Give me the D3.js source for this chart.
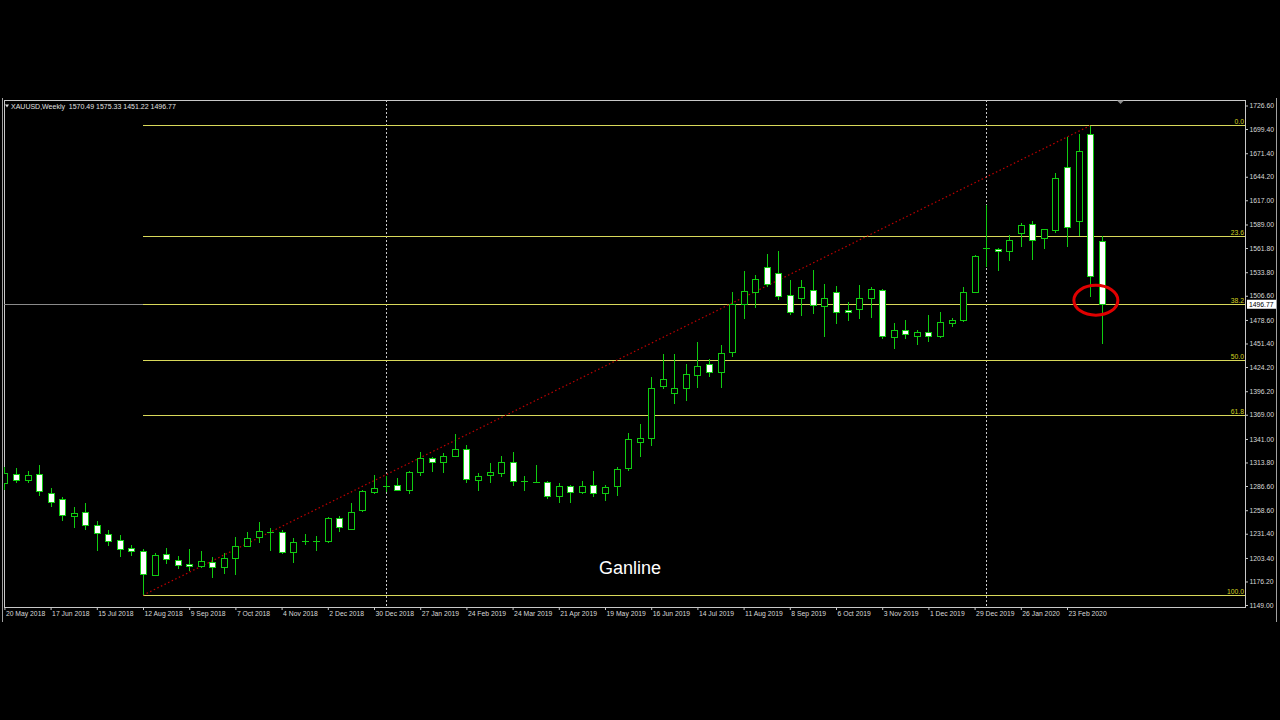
<!DOCTYPE html>
<html><head><meta charset="utf-8">
<script src="https://cdn.jsdelivr.net/npm/d3@7"></script>
<style>
html,body{margin:0;padding:0;background:#000;}
svg{display:block;}
text{font-family:"Liberation Sans",Arial,sans-serif;}
</style></head><body>
<svg id="c" width="1280" height="720"></svg>
<script>
// ---- data (weekly XAUUSD bars, week start dates) ----
const dates=["2018-05-20","2018-05-27","2018-06-03","2018-06-10","2018-06-17","2018-06-24","2018-07-01","2018-07-08","2018-07-15","2018-07-22","2018-07-29","2018-08-05","2018-08-12","2018-08-19","2018-08-26","2018-09-02","2018-09-09","2018-09-16","2018-09-23","2018-09-30","2018-10-07","2018-10-14","2018-10-21","2018-10-28","2018-11-04","2018-11-11","2018-11-18","2018-11-25","2018-12-02","2018-12-09","2018-12-16","2018-12-23","2018-12-30",
"2019-01-06","2019-01-13","2019-01-20","2019-01-27","2019-02-03","2019-02-10","2019-02-17","2019-02-24","2019-03-03","2019-03-10","2019-03-17","2019-03-24","2019-03-31","2019-04-07","2019-04-14","2019-04-21","2019-04-28","2019-05-05","2019-05-12","2019-05-19","2019-05-26","2019-06-02","2019-06-09","2019-06-16","2019-06-23","2019-06-30","2019-07-07","2019-07-14","2019-07-21","2019-07-28","2019-08-04","2019-08-11","2019-08-18","2019-08-25","2019-09-01","2019-09-08","2019-09-15","2019-09-22","2019-09-29","2019-10-06","2019-10-13","2019-10-20","2019-10-27","2019-11-03","2019-11-10","2019-11-17","2019-11-24","2019-12-01","2019-12-08","2019-12-15","2019-12-22","2019-12-29",
"2020-01-05","2020-01-12","2020-01-19","2020-01-26","2020-02-02","2020-02-09","2020-02-16","2020-02-23","2020-03-01","2020-03-08","2020-03-15"];
const open=[1290.3,1300.0,1294.0,1300.0,1278.0,1271.1,1251.5,1256.1,1241.4,1231.4,1223.8,1214.5,1211.7,1183.7,1207.6,1201.0,1196.0,1194.4,1199.0,1192.6,1203.0,1217.2,1227.2,1233.3,1233.0,1209.9,1223.0,1222.5,1223.3,1249.9,1236.5,1258.4,1279.5,
1286.3,1287.3,1282.2,1303.0,1318.5,1313.9,1321.5,1328.9,1293.8,1299.4,1301.9,1314.5,1292.0,1291.2,1291.5,1275.3,1286.8,1279.9,1287.3,1278.0,1286.1,1306.9,1337.0,1342.3,1402.4,1393.9,1400.5,1415.5,1428.2,1419.0,1441.7,1497.6,1511.0,1539.9,1533.4,1508.0,1504.1,1513.7,1495.3,1511.0,1490.2,1491.4,1504.5,1513.0,1459.0,1467.5,1460.2,1464.4,1459.5,1475.6,1478.3,1511.0,
1561.5,1560.7,1558.4,1579.6,1589.6,1573.1,1582.3,1655.5,1592.7,1694.0,1570.49];
const high=[1308.8,1307.0,1303.8,1310.4,1283.8,1273.4,1261.9,1266.5,1246.0,1235.7,1229.5,1218.3,1214.0,1208.7,1214.9,1205.6,1213.7,1211.7,1204.8,1208.7,1227.2,1233.0,1244.5,1237.6,1235.7,1226.0,1230.7,1229.0,1250.3,1251.8,1266.5,1281.9,1299.2,
1298.0,1295.4,1304.2,1326.2,1319.7,1324.3,1346.6,1333.9,1301.2,1312.9,1321.2,1325.4,1298.0,1310.8,1292.6,1289.6,1287.6,1292.3,1303.8,1287.6,1308.1,1348.1,1358.1,1412.1,1439.0,1438.7,1427.5,1453.4,1434.0,1449.4,1511.0,1534.9,1530.3,1555.4,1558.0,1524.5,1524.5,1536.1,1520.7,1517.6,1499.1,1518.7,1516.8,1514.9,1475.2,1479.1,1466.8,1484.0,1487.5,1481.4,1516.8,1553.4,
1612.0,1561.5,1576.5,1591.1,1592.7,1584.3,1649.0,1690.1,1693.2,1703.4,1575.33];
const low=[1281.9,1289.6,1289.6,1275.3,1261.9,1246.4,1238.3,1235.7,1211.4,1217.5,1204.8,1205.6,1160.4,1182.5,1196.4,1190.2,1188.6,1191.7,1180.5,1184.8,1183.7,1216.4,1220.3,1211.7,1207.6,1197.2,1218.3,1211.7,1221.0,1233.0,1235.7,1256.8,1277.3,
1279.9,1280.7,1277.3,1298.4,1303.0,1301.9,1320.3,1290.0,1281.1,1289.6,1297.2,1286.5,1280.7,1289.6,1271.8,1266.5,1266.5,1277.3,1274.1,1269.5,1275.0,1304.0,1319.6,1333.0,1398.6,1381.6,1385.1,1400.1,1412.1,1400.1,1435.9,1479.4,1492.5,1517.0,1502.2,1484.4,1482.9,1486.0,1459.0,1474.5,1477.5,1480.2,1481.4,1456.3,1445.1,1456.7,1449.4,1453.2,1458.3,1469.9,1476.3,1510.3,
1539.9,1535.2,1546.7,1563.0,1547.6,1561.1,1579.2,1563.0,1575.4,1505.2,1451.22];
const close=[1301.9,1293.5,1299.8,1280.7,1268.4,1253.3,1255.3,1241.4,1232.5,1223.3,1213.4,1211.7,1184.8,1206.8,1201.8,1195.6,1194.0,1200.2,1192.6,1203.0,1217.5,1226.8,1234.2,1233.7,1209.9,1221.4,1223.5,1223.0,1249.2,1238.8,1256.1,1280.7,1284.7,
1286.8,1281.9,1302.3,1318.5,1313.9,1321.5,1328.9,1294.2,1298.4,1303.3,1314.5,1292.3,1292.5,1291.5,1275.3,1286.5,1279.2,1286.5,1278.4,1285.0,1305.8,1340.5,1341.6,1399.4,1409.8,1399.4,1415.9,1425.1,1418.6,1440.9,1497.6,1512.6,1526.4,1520.7,1506.0,1488.3,1516.8,1496.4,1504.5,1488.3,1487.9,1504.5,1514.1,1459.5,1467.5,1462.5,1464.4,1459.8,1476.0,1478.6,1511.0,1552.2,
1562.2,1558.0,1571.5,1588.8,1570.7,1584.3,1643.2,1586.2,1674.0,1529.5,1496.77];
const yTicks=[1726.60,1699.40,1671.40,1644.20,1617.00,1589.00,1561.80,1533.80,1506.60,1478.60,1451.40,1424.20,1396.20,1369.00,1341.00,1313.80,1286.60,1258.60,1231.40,1203.40,1176.20,1149.00];
const xLabelEvery=4;
const fibLevels=[0,23.6,38.2,50,61.8,100];
const fibLowDate="2018-08-12", fibLowPrice=1160.37;
const fibHighDate="2020-03-08", fibHighPrice=1703.39;
const separatorDates=["2019-01-06","2020-01-05"];
const headerSymbol="XAUUSD,Weekly";
const annotationText="Ganline";
const circlePrice=1501.4;

// ---- layout ----
const L=4, R=1245, T=100, B=607;
const svg=d3.select("#c");
const x=d3.scalePoint().domain(dates).range([4.4,4.4+95*11.55]);
const y=d3.scaleLinear().domain([1149,1726.6]).range([605,105.5]);
const green="#10cc10";
const fmtDate=d3.utcFormat("%-d %b %Y"), parseDate=d3.utcParse("%Y-%m-%d");

svg.append("defs").append("clipPath").attr("id","plot")
  .append("rect").attr("x",L).attr("y",T).attr("width",R-L).attr("height",B-T);

// window side borders
svg.append("path").attr("d","M2.5,98V622M1276.5,98V622")
  .attr("stroke","#a0a0a0").attr("fill","none").attr("shape-rendering","crispEdges");
// plot frame
svg.append("path").attr("d",`M${L+0.5},${T+0.5}H${R+0.5}V${B+0.5}H${L+0.5}Z`)
  .attr("fill","none").attr("stroke","#c8c8c8").attr("shape-rendering","crispEdges");

const g=svg.append("g").attr("clip-path","url(#plot)");

// separators
g.selectAll("line.sep").data(separatorDates).join("line")
  .attr("x1",d=>Math.round(x(d))+0.5).attr("x2",d=>Math.round(x(d))+0.5)
  .attr("y1",T).attr("y2",B).attr("stroke","#c8c8c8").attr("stroke-dasharray","2,2");

// bid line
const last=close[close.length-1];
const fibX0=x(fibLowDate);
g.append("line").attr("x1",L).attr("x2",fibX0).attr("y1",Math.floor(y(last))+0.5).attr("y2",Math.floor(y(last))+0.5)
  .attr("stroke","#8a8a8a").attr("shape-rendering","crispEdges");

// fib levels
const fibs=fibLevels.map(l=>({l,p:fibHighPrice-(fibHighPrice-fibLowPrice)*l/100}));
g.selectAll("line.fib").data(fibs).join("line")
  .attr("x1",fibX0).attr("x2",R)
  .attr("y1",d=>Math.floor(y(d.p))+0.5).attr("y2",d=>Math.floor(y(d.p))+0.5)
  .attr("stroke","#d8d85a").attr("shape-rendering","crispEdges");
g.selectAll("text.fib").data(fibs).join("text")
  .attr("x",R-1).attr("y",d=>Math.floor(y(d.p))-1.5)
  .attr("text-anchor","end").attr("font-size",6.8).attr("fill","#d0d020")
  .text(d=>d.l.toFixed(1));

// trendline
g.append("line").attr("x1",x(fibLowDate)).attr("y1",y(fibLowPrice))
  .attr("x2",x(fibHighDate)).attr("y2",y(fibHighPrice))
  .attr("stroke","#c00000").attr("stroke-width",1.2).attr("stroke-dasharray","1.5,2.5");

// candles
const bars=dates.map((d,i)=>({d,o:open[i],h:high[i],l:low[i],c:close[i]}));
const cg=g.append("g").attr("shape-rendering","crispEdges");
cg.selectAll("line.w").data(bars).join("line")
  .attr("x1",b=>Math.round(x(b.d))+0.5).attr("x2",b=>Math.round(x(b.d))+0.5)
  .attr("y1",b=>Math.round(y(b.h))).attr("y2",b=>Math.round(y(b.l)))
  .attr("stroke",green);
cg.selectAll("rect.b").data(bars).join("rect")
  .attr("x",b=>Math.round(x(b.d))-3+0.5)
  .attr("width",6)
  .attr("y",b=>Math.round(y(Math.max(b.o,b.c)))+0.5)
  .attr("height",b=>Math.max(0.01,Math.round(y(Math.min(b.o,b.c)))-Math.round(y(Math.max(b.o,b.c)))))
  .attr("fill",b=>b.c>=b.o?"#000":"#fff")
  .attr("stroke",green);

// right axis
const ay=svg.append("g").attr("transform",`translate(${R},0)`)
  .call(d3.axisRight(y).tickValues(yTicks).tickSize(3).tickFormat(d3.format(".2f")));
ay.select(".domain").remove();
ay.selectAll("line").attr("stroke","#c8c8c8");
ay.selectAll("text").attr("x",4.5).attr("fill","#d8d8d8").attr("font-size",6.8)
  .attr("font-family","Liberation Sans, Arial, sans-serif");

// current price label
const py=y(last);
svg.append("rect").attr("x",1247).attr("y",py-4.5).attr("width",29).attr("height",9).attr("fill","#fff");
svg.append("text").attr("x",1249).attr("y",py+2.4).attr("font-size",6.8).attr("fill","#000").text(last.toFixed(2));

// bottom axis
const ax=svg.append("g").attr("transform",`translate(0,${B})`)
  .call(d3.axisBottom(x).tickValues(dates.filter((d,i)=>i%xLabelEvery===0)).tickSize(3)
  .tickFormat(d=>fmtDate(parseDate(d))));
ax.select(".domain").remove();
ax.selectAll("line").attr("stroke","#c8c8c8");
ax.selectAll("text").attr("text-anchor","start").attr("x",1).attr("y",4).attr("fill","#d8d8d8")
  .attr("font-size",6.8).attr("font-family","Liberation Sans, Arial, sans-serif");

// header
svg.append("path").attr("d","M5,104.5L9,104.5L7,107.5Z").attr("fill","#ddd");
svg.append("text").attr("x",11).attr("y",109).attr("font-size",7).attr("fill","#e0e0e0")
  .attr("xml:space","preserve")
  .text(`${headerSymbol}  ${open[95].toFixed(2)} ${high[95].toFixed(2)} ${low[95].toFixed(2)} ${close[95].toFixed(2)}`);

// chart shift marker
svg.append("path").attr("d","M1117,100.5L1124,100.5L1120.5,104Z").attr("fill","#8a8a8a");

// ellipse annotation
svg.append("ellipse")
  .attr("cx",(x(dates[94])+x(dates[95]))/2).attr("cy",y(circlePrice))
  .attr("rx",22).attr("ry",15).attr("fill","none").attr("stroke","#e00000").attr("stroke-width",3);

// annotation text
svg.append("text").attr("x",630).attr("y",574).attr("text-anchor","middle")
  .attr("font-family","Open Sans, sans-serif").attr("font-size",18).attr("fill","#fff")
  .text(annotationText);
</script>
</body></html>
